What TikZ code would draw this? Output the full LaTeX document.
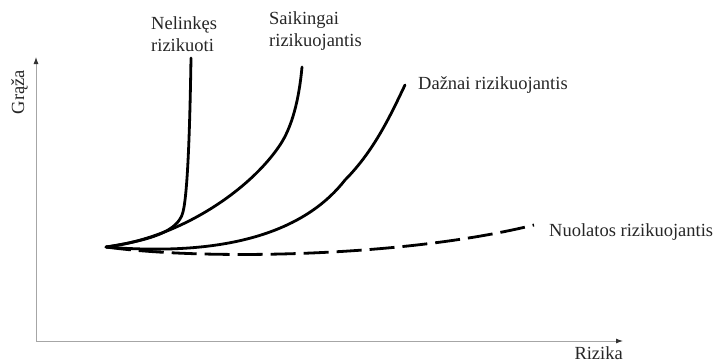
\documentclass[tikz,border=0pt]{standalone}
\usepackage{fontspec}
\setmainfont{Liberation Serif}
\usetikzlibrary{positioning}
\usetikzlibrary{arrows.meta}
\begin{document}
\begin{tikzpicture}[
    x=1pt, y=-1pt,              % Pixel grid, top-to-bottom
    ]
% -------------------------------------------------
\tikzset{
  axis/.style={draw=black!35, line width=0.9pt, -{Latex[black!80, length=7pt, width=5pt]}},
  curve/.style={draw, line width=2.8pt, line cap=round},
  dcurve/.style={curve, line cap=butt, dash pattern=on 25pt off 8pt},
  lbl/.style={font=\fontsize{18.5}{22}\selectfont, inner sep=0pt, text=black!85, align=left}
}
% -------------------------------------------------
\useasboundingbox (0,0) rectangle (715,362);

% Axes
\coordinate (org) at (36,341);
\coordinate (ytop) at (36,57);
\coordinate (xend) at (623,341);
\path [axis] (org) -- (ytop);
\path [axis] (org) -- (xend);
\node [lbl, rotate=90, anchor=base] (graza) at (24,92) {Grąža};
\node [lbl, anchor=base east] (rizika) at (623,359) {Rizika};

% Curves
\coordinate (o) at (106,247);
\coordinate (nelEnd) at (191,58);
\coordinate (saikEnd) at (302,67);
\coordinate (daznEnd) at (405,85);
\coordinate (nuolEnd) at (534,225);

\path [dcurve] (o) .. controls (200,260) and (400,258) .. (nuolEnd);
\path [curve] (o) .. controls (150,240) and (178,232) .. (183,212)
    .. controls (188,192) and (190,120) .. (nelEnd);
\path [curve] (o) .. controls (180,238) and (250,190) .. (280,145)
    .. controls (292,127) and (299,100) .. (saikEnd);
\path [curve] (o) .. controls (240,258) and (310,225) .. (345,180)
    .. controls (375,150) and (392,112) .. (daznEnd);

% Labels
\node [lbl, anchor=base west] (nel) at (151,51) {Nelinkęs\\rizikuoti};
\node [lbl, anchor=base west] (saik) at (269,46) {Saikingai\\rizikuojantis};
\node [lbl, anchor=base west] (dazn) at (418,89) {Dažnai rizikuojantis};
\node [lbl, anchor=base west] (nuol) at (549,236) {Nuolatos rizikuojantis};

\end{tikzpicture}
\end{document}
